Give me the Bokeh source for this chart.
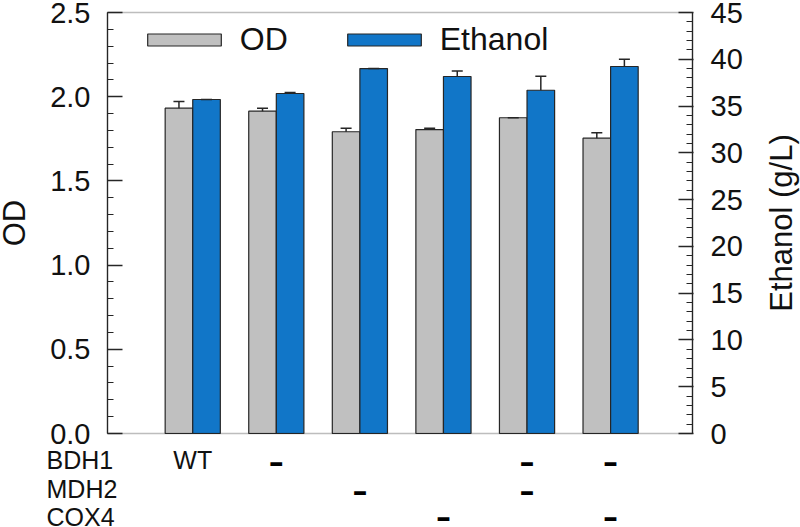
import numpy as np
from bokeh.plotting import figure
from bokeh.models import (Range1d, LinearAxis, FixedTicker, Legend, LegendItem,
                          Label, LabelSet, ColumnDataSource, PrintfTickFormatter,
                          BoxAnnotation)
from bokeh.transform import dodge
from bokeh.core.properties import value
from bokeh.embed import file_html
from bokeh.resources import INLINE

# ---------------- data ----------------
strains = ["WT", "BDH1-", "MDH2-", "COX4-", "BDH1- MDH2-", "BDH1- COX4-"]
od = [1.932, 1.914, 1.792, 1.805, 1.875, 1.754]
od_err = [0.039, 0.018, 0.021, 0.008, 0.0, 0.032]
ethanol = [35.70, 36.34, 39.01, 38.16, 36.69, 39.23]
ethanol_err = [0.0, 0.10, 0.0, 0.60, 1.50, 0.78]

genes = ["BDH1", "MDH2", "COX4"]
marks_bdh1 = ["WT", "-", "", "", "-", "-"]
marks_mdh2 = ["", "", "-", "", "-", ""]
marks_cox4 = ["", "", "", "-", "", "-"]

od_ticks = [0.0, 0.5, 1.0, 1.5, 2.0, 2.5]
eth_ticks = [0, 5, 10, 15, 20, 25, 30, 35, 40, 45]

# ---------------- layout / style ----------------
FONT = "Liberation Sans"
INK = "#262626"
TXT = "#111111"
GRAY = "#C0C0C0"
BLUE = "#1176C8"

W, H = 800, 527
# pixel geometry of the plot box inside the canvas
BOX_L, BOX_R, BOX_T, BOX_B = 107, 692, 12, 433
X0, X1 = -0.02, 6.98          # data x at box left / right
OD_MAX, ETH_MAX = 2.5, 45.0
pxu = (BOX_R - BOX_L) / (X1 - X0)
pyu = (BOX_B - BOX_T) / OD_MAX
pye = (BOX_B - BOX_T) / ETH_MAX

p = figure(width=W, height=H, output_backend="svg", toolbar_location=None,
           x_range=Range1d(X0 - BOX_L / pxu, X1 + (W - BOX_R) / pxu),
           y_range=Range1d(-(H - BOX_B) / pyu, BOX_B / pyu),
           x_axis_location=None, y_axis_location=None,
           min_border=0)
p.extra_y_ranges = {"eth": Range1d(-(H - BOX_B) / pye, BOX_B / pye)}
p.grid.visible = False
p.outline_line_alpha = 0
p.background_fill_color = "white"
p.border_fill_color = "white"

od_minor = [round(i * 0.1, 1) for i in range(26)]
eth_minor = list(range(46))

ya = LinearAxis(ticker=FixedTicker(ticks=od_ticks, minor_ticks=od_minor),
                formatter=PrintfTickFormatter(format="%.1f"),
                fixed_location=X0, bounds=(0, OD_MAX))
yb = LinearAxis(y_range_name="eth",
                ticker=FixedTicker(ticks=eth_ticks, minor_ticks=eth_minor),
                formatter=PrintfTickFormatter(format="%d"),
                fixed_location=X1, bounds=(0, ETH_MAX))
for ax in (ya, yb):
    ax.axis_line_color = INK
    ax.axis_line_width = 1.3
    ax.major_tick_line_color = INK
    ax.major_tick_line_width = 1.3
    ax.minor_tick_line_color = INK
    ax.minor_tick_line_width = 1.2
    ax.major_tick_out = 0
    ax.minor_tick_out = 0
    ax.minor_tick_in = 6
    ax.major_label_text_font = FONT
    ax.major_label_text_font_size = "29px"
    ax.major_label_text_color = TXT
    ax.major_label_standoff = 17
ya.major_tick_in = 15
yb.major_tick_in = 14
yb.major_tick_out = 1
yb.major_label_standoff = 17
p.add_layout(ya, "left")
p.add_layout(yb, "right")

# plot box
p.add_layout(BoxAnnotation(left=X0, right=X1, bottom=0, top=OD_MAX,
                           fill_alpha=0, line_color=INK, line_width=1.3))

x = list(range(1, len(strains) + 1))
src = ColumnDataSource(dict(
    x=x, od=od, od_hi=[v + e for v, e in zip(od, od_err)],
    eth=ethanol, eth_hi=[v + e for v, e in zip(ethanol, ethanol_err)]))

BW = 0.33
xo = dodge("x", -BW / 2, range=p.x_range)
xe = dodge("x", BW / 2, range=p.x_range)

r_od = p.vbar(x=xo, top="od", bottom=0, width=BW, source=src,
              fill_color=GRAY, line_color=INK, line_width=1.2)
r_eth = p.vbar(x=xe, top="eth", bottom=0, width=BW, source=src, y_range_name="eth",
               fill_color=BLUE, line_color=INK, line_width=1.2)

# error bars (upper only)
p.segment(x0=xo, y0="od", x1=xo, y1="od_hi", source=src, line_color=INK, line_width=1.5)
p.scatter(x=xo, y="od_hi", source=src, marker="dash", size=11, line_color=INK, line_width=1.5)
p.segment(x0=xe, y0="eth", x1=xe, y1="eth_hi", source=src, y_range_name="eth",
          line_color=INK, line_width=1.5)
p.scatter(x=xe, y="eth_hi", source=src, y_range_name="eth", marker="dash", size=11,
          line_color=INK, line_width=1.5)

legend = Legend(items=[LegendItem(label="OD", renderers=[r_od]),
                       LegendItem(label="Ethanol", renderers=[r_eth])],
                orientation="horizontal", location=(137.75, H - 58),
                glyph_width=92, glyph_height=15, label_standoff=10, spacing=50,
                padding=0, margin=0,
                label_text_font=FONT, label_text_font_size="32px",
                label_text_color=TXT,
                border_line_alpha=0, background_fill_alpha=0)
p.add_layout(legend)

# axis titles
p.add_layout(Label(x=X0 + (14 - BOX_L) / pxu, y=OD_MAX / 2, text="OD", angle=np.pi / 2,
                   text_align="center", text_baseline="middle",
                   text_font=FONT, text_font_size="31px", text_color=TXT))
p.add_layout(Label(x=X0 + (781 - BOX_L) / pxu, y=OD_MAX / 2, text="Ethanol (g/L)",
                   angle=np.pi / 2, text_align="center", text_baseline="middle",
                   text_font=FONT, text_font_size="31px", text_color=TXT))

# genotype table below the bars
row_text_y = [-(459 - BOX_B) / pyu, -(488 - BOX_B) / pyu, -(516 - BOX_B) / pyu]
row_dash_y = [-(460 - BOX_B) / pyu, -(489 - BOX_B) / pyu, -(515 - BOX_B) / pyu]
all_marks = [marks_bdh1, marks_mdh2, marks_cox4]

rows_src = ColumnDataSource(dict(x=[X0 + (46 - BOX_L) / pxu] * len(genes),
                                 y=row_text_y, text=genes))
p.add_layout(LabelSet(x="x", y="y", text="text", source=rows_src,
                      text_align="left", text_baseline="middle",
                      text_font=value(FONT), text_font_size="25px", text_color=TXT))

wt_x, wt_y, wt_t, d_x, d_y = [], [], [], [], []
for r, row in enumerate(all_marks):
    for g, m in enumerate(row):
        if m == "-":
            d_x.append(x[g]); d_y.append(row_dash_y[r])
        elif m:
            wt_x.append(x[g]); wt_y.append(row_text_y[r]); wt_t.append(m)

p.add_layout(LabelSet(x="x", y="y", text="text",
                      source=ColumnDataSource(dict(x=wt_x, y=wt_y, text=wt_t)),
                      text_align="center", text_baseline="middle",
                      text_font=value(FONT), text_font_size="25px", text_color=TXT))
p.add_layout(LabelSet(x="x", y="y", text="text",
                      source=ColumnDataSource(dict(x=d_x, y=d_y, text=["-"] * len(d_x))),
                      text_align="center", text_baseline="middle",
                      text_font=value(FONT), text_font_size="48px", text_color="#000000"))

open("out.html", "w").write(file_html(p, INLINE))
